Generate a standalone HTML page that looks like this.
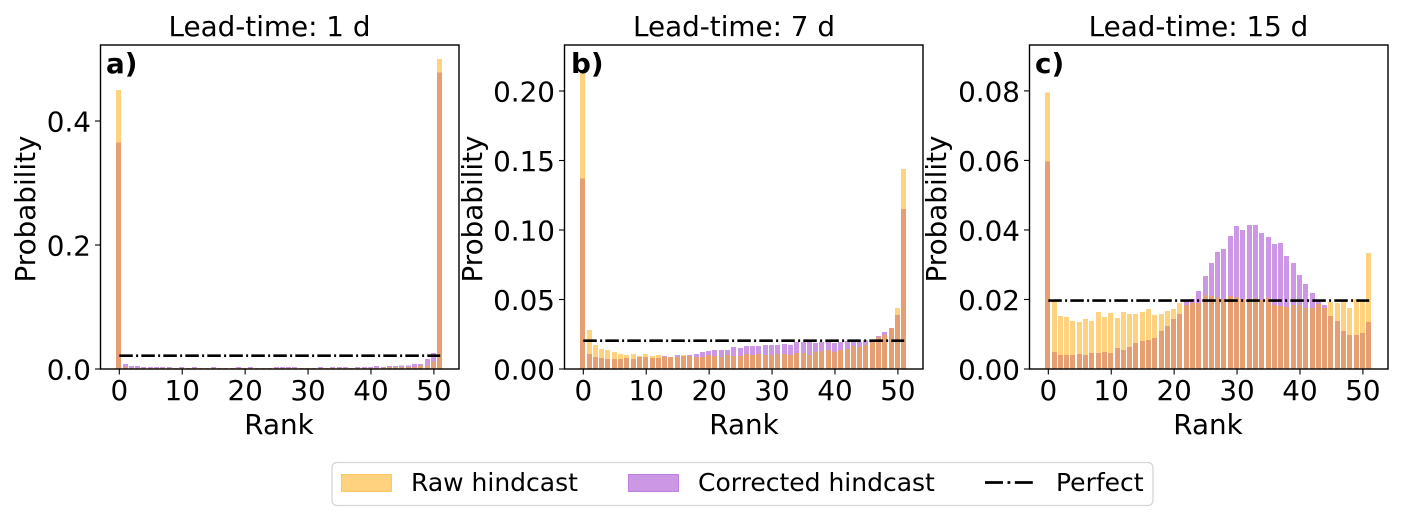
<!DOCTYPE html>
<html lang="en">
<head>
<meta charset="utf-8">
<title>Rank histograms by lead-time</title>
<style>
html,body{margin:0;padding:0;background:#fff;}
svg{display:block;}
text{font-family:"DejaVu Sans","Liberation Sans",sans-serif;fill:#000;}
.t{font-size:27.8px;}
.l{font-size:25px;}
.p{font-size:27.8px;font-weight:bold;}
</style>
</head>
<body>
<svg id="chart" xmlns="http://www.w3.org/2000/svg" width="1403" height="522" viewBox="0 0 1403 522">
  <g id="panels"></g>

  <text class="t" x="269.5" y="36" text-anchor="middle">Lead-time: 1 d</text>
  <text class="t" x="734" y="36" text-anchor="middle">Lead-time: 7 d</text>
  <text class="t" x="1198.5" y="36" text-anchor="middle">Lead-time: 15 d</text>

  <text class="p" x="106" y="73">a)</text>
  <text class="p" x="571" y="73">b)</text>
  <text class="p" x="1035" y="73">c)</text>

  <text class="t" x="279" y="434" text-anchor="middle">Rank</text>
  <text class="t" x="744" y="434" text-anchor="middle">Rank</text>
  <text class="t" x="1208" y="434" text-anchor="middle">Rank</text>

  <text class="t" transform="translate(35,209) rotate(-90)" text-anchor="middle">Probability</text>
  <text class="t" transform="translate(482,209) rotate(-90)" text-anchor="middle">Probability</text>
  <text class="t" transform="translate(946,209) rotate(-90)" text-anchor="middle">Probability</text>

  <g>
    <rect x="332" y="462.5" width="821" height="43" rx="5" fill="#fff" stroke="#d5d5d5" stroke-width="1.3"/>
    <rect x="341.5" y="474.5" width="50" height="17" fill="#ffa500" fill-opacity="0.5" stroke="#ffa500" stroke-opacity="0.5"/>
    <text class="l" x="411" y="491">Raw hindcast</text>
    <rect x="628.5" y="474.5" width="50" height="17" fill="#9932cc" fill-opacity="0.5" stroke="#9932cc" stroke-opacity="0.5"/>
    <text class="l" x="698" y="491">Corrected hindcast</text>
    <line x1="985" y1="482.5" x2="1036" y2="482.5" stroke="#000" stroke-width="2.8" stroke-dasharray="18 4.5 2.8 4.5"/>
    <text class="l" x="1056" y="491">Perfect</text>
  </g>
</svg>

<script>
const ranks = [0,1,2,3,4,5,6,7,8,9,10,11,12,13,14,15,16,17,18,19,20,21,22,23,24,25,26,27,28,29,30,31,32,33,34,35,36,37,38,39,40,41,42,43,44,45,46,47,48,49,50,51];
const xTickLabels = [0,10,20,30,40,50];

const rawA = [.45,.003,.002,.002,.002,.0015,.0015,.0015,.002,.002,.0015,.002,.0015,.002,.002,.0015,.002,.002,.002,.002,.0015,.002,.0015,.002,.002,.002,.002,.002,.002,.0015,.002,.002,.0015,.002,.002,.002,.002,.0015,.002,.002,.002,.002,.002,.003,.003,.003,.0035,.0035,.006,.006,.012,.5];
const correctedA = [.365,.008,.005,.005,.003,.003,.003,.003,.003,.002,.003,.002,.003,.002,.002,.003,.002,.002,.002,.003,.002,.003,.002,.002,.002,.003,.003,.003,.003,.002,.002,.002,.003,.002,.003,.003,.003,.002,.003,.003,.003,.005,.003,.005,.005,.006,.006,.008,.008,.016,.026,.478];
const perfectA = .0215;
const yTicksA = ["0.0","0.2","0.4"];

const rawB = [.215,.028,.0173,.0144,.0137,.0122,.0108,.0101,.0108,.0094,.0108,.0094,.0101,.0086,.0086,.0086,.0101,.0094,.0086,.0086,.0101,.0094,.0086,.0101,.0094,.0094,.0108,.0101,.0108,.0101,.0101,.0108,.0108,.0101,.0115,.0115,.0101,.0122,.013,.0137,.0122,.0137,.0144,.0166,.0158,.0173,.0194,.023,.0245,.0295,.044,.144];
const correctedB = [.137,.0108,.0086,.0079,.0072,.0072,.0072,.0079,.0072,.0086,.0086,.0079,.0079,.0094,.0086,.0101,.0094,.0101,.0108,.0122,.013,.0137,.0137,.0137,.0158,.0151,.0166,.0166,.0166,.0173,.0173,.0173,.018,.0173,.0194,.0194,.0194,.0187,.0194,.0194,.0187,.0194,.0202,.0194,.0194,.0209,.0194,.0238,.0266,.0295,.0389,.115];
const perfectB = .0204;
const yTicksB = ["0.00","0.05","0.10","0.15","0.20"];

const rawC = [.0795,.0199,.0152,.015,.0138,.0135,.0144,.0138,.0164,.015,.0161,.0147,.0164,.0158,.0158,.0164,.0173,.0155,.0158,.0167,.0173,.019,.0184,.019,.019,.0213,.021,.0206,.0201,.021,.0206,.0201,.0201,.0204,.0199,.0204,.0184,.0181,.0178,.0184,.0184,.0175,.0175,.0187,.0175,.0193,.019,.0193,.0175,.0201,.0194,.0334];
const correctedC = [.0597,.0049,.004,.004,.004,.0043,.004,.0046,.0046,.0049,.0046,.006,.0055,.0063,.0075,.0081,.0083,.0089,.0109,.0124,.0144,.0158,.0196,.0201,.0224,.0268,.0305,.0337,.0345,.0383,.0411,.04,.0414,.0414,.0391,.038,.036,.0362,.0325,.0305,.027,.0245,.0219,.0194,.0184,.0152,.0138,.0109,.0098,.0098,.0104,.0135];
const perfectC = .0197;
const yTicksC = ["0.00","0.02","0.04","0.06","0.08"];

const SVG_NS = 'http://www.w3.org/2000/svg';
const root = document.getElementById('panels');
const AXIS_TOP = 45, AXIS_BOTTOM = 369, AXIS_WIDTH = 358.5;
const X_MIN = -2.99, X_MAX = 53.99;
const BAR_WIDTH = 5;

function make(parent, tag, attrs) {
  const el = document.createElementNS(SVG_NS, tag);
  for (const k in attrs) el.setAttribute(k, attrs[k]);
  parent.appendChild(el);
  return el;
}

function drawPanel(id, left, yMax, raw, corrected, perfect, yTicks) {
  const x = r => left + (r - X_MIN) / (X_MAX - X_MIN) * AXIS_WIDTH;
  const y = v => AXIS_BOTTOM - v / yMax * (AXIS_BOTTOM - AXIS_TOP);

  const g = make(root, 'g', {});
  
  

  function bars(values, color, series) {
    values.forEach((v, i) => {
      const r = ranks[i];
      const x0 = Math.round(x(r - 0.4) - 0.5);
      const top = y(v);
      const b = make(g, 'rect', {
        x: x0, y: top, width: BAR_WIDTH, height: AXIS_BOTTOM - top,
        fill: color, 'fill-opacity': 0.5, 'shape-rendering': 'crispEdges'
      });
      
      
    });
  }
  bars(corrected, '#9932cc', 'corrected');
  bars(raw, '#ffa500', 'raw');

  const perfectLine = make(g, 'line', {
    x1: x(ranks[0]), x2: x(ranks[ranks.length - 1]), y1: y(perfect), y2: y(perfect),
    stroke: '#000', 'stroke-width': 2.6, 'stroke-dasharray': '13.5 3.3 2 3.2'
  });
  
  

  const frame = make(g, 'rect', {
    x: left, y: AXIS_TOP, width: AXIS_WIDTH, height: AXIS_BOTTOM - AXIS_TOP,
    fill: 'none', stroke: '#000', 'stroke-width': 1.4
  });
  
  

  xTickLabels.forEach(t => {
    const tick = make(g, 'line', { x1: x(t), x2: x(t), y1: AXIS_BOTTOM, y2: AXIS_BOTTOM + 5.5, stroke: '#000', 'stroke-width': 1.1 });
    
    
    const label = make(g, 'text', { x: x(t), y: 400, 'text-anchor': 'middle', class: 't' });
    label.textContent = t;
    
    
  });

  yTicks.forEach(t => {
    const yy = y(parseFloat(t));
    const tick = make(g, 'line', { x1: left - 5.5, x2: left, y1: yy, y2: yy, stroke: '#000', 'stroke-width': 1.1 });
    
    
    const label = make(g, 'text', { x: left - 9.5, y: yy + 10.5, 'text-anchor': 'end', class: 't' });
    label.textContent = t;
    
    
  });
}

drawPanel('a', 100.5, 0.5226, rawA, correctedA, perfectA, yTicksA);
drawPanel('b', 564.5, 0.2331, rawB, correctedB, perfectB, yTicksB);
drawPanel('c', 1029.5, 0.0932, rawC, correctedC, perfectC, yTicksC);
</script>
</body>
</html>
